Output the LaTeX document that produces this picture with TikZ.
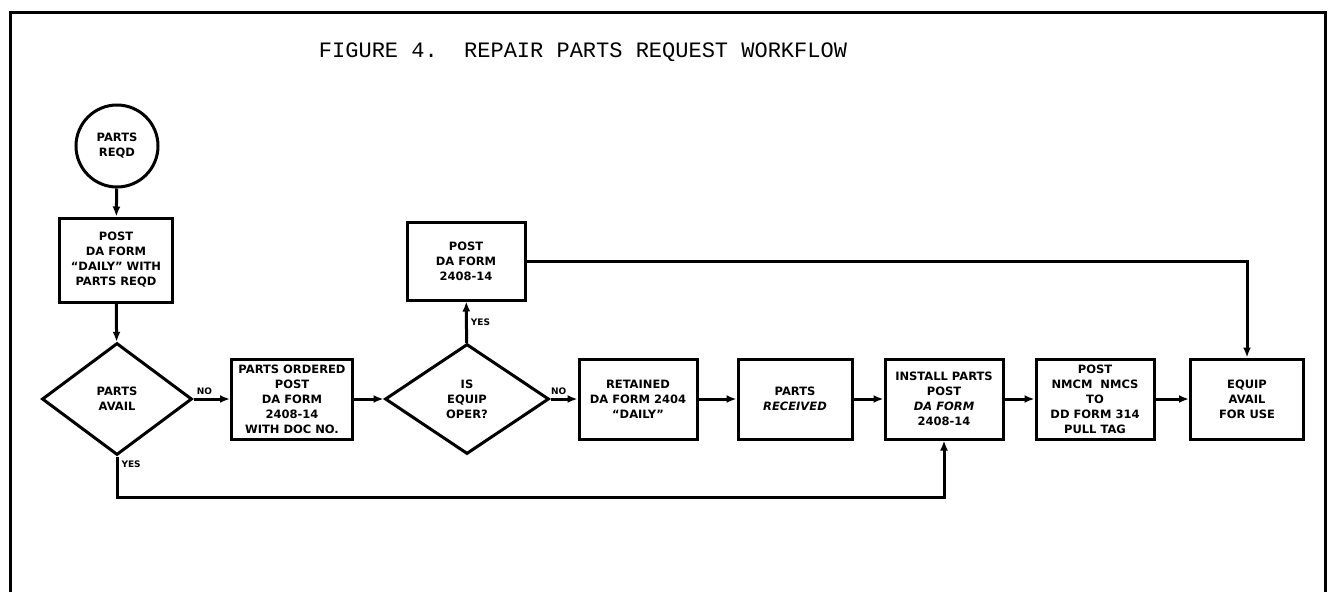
\documentclass[tikz,border=0pt]{standalone}
\usepackage{fontspec}
\usepackage{tikz}
\usetikzlibrary{shapes.geometric}
\usetikzlibrary{arrows.meta}
\newfontfamily\chartfont{DejaVu Sans}
\newfontfamily\titlefont{Liberation Mono}
\tikzset{
  % A step of the workflow
  stepbox/.style={
    draw=black, fill=white, rectangle, line width=3pt, align=center,
    font=\chartfont\bfseries\fontsize{11.5}{15}\selectfont,
    inner sep=0pt, minimum height=80pt, minimum width=#1},
  % A yes / no question
  ask/.style={
    draw=black, fill=white, diamond, line width=3pt, align=center,
    font=\chartfont\bfseries\fontsize{11.5}{15}\selectfont,
    inner sep=0pt, minimum width=#1, minimum height=112pt},
  % The start
  start/.style={
    draw=black, fill=white, circle, line width=3pt, align=center,
    font=\chartfont\bfseries\fontsize{11.5}{15}\selectfont,
    inner sep=0pt, minimum size=82pt},
  % Connectors
  flow/.style={-{Latex[length=10pt,width=8pt]}, draw=black, line width=3pt},
  lbl/.style={font=\chartfont\bfseries\fontsize{9}{10}\selectfont, inner sep=3pt},
}

\begin{document}
\begin{tikzpicture}[x=1pt, y=-1pt]

  \useasboundingbox (0,0) rectangle (1328,592);
  \draw[line width=3pt] (10,592) -- (10,12) -- (1325,12) -- (1325,592);

  \node[font=\titlefont\fontsize{22}{26}\selectfont] (title) at (583,52)
    {FIGURE 4.\ \ REPAIR PARTS REQUEST WORKFLOW};

  \node[start] (reqd) at (117,146) {PARTS\\REQD};
  \node[stepbox=113pt, minimum height=84pt] (daily) at (116,260)
    {POST\\DA FORM\\“DAILY” WITH\\PARTS REQD};
  \node[ask=150pt] (avail) at (117,399) {PARTS\\AVAIL};
  \node[stepbox=121pt] (ordered) at (292,399)
    {PARTS ORDERED\\POST\\DA FORM\\2408-14\\WITH DOC NO.};
  \node[ask=164pt, minimum height=110pt] (oper) at (467,399) {IS\\EQUIP\\OPER?};
  \node[stepbox=118pt, minimum height=78pt] (posted) at (466,261)
    {POST\\DA FORM\\2408-14};
  \node[stepbox=118pt] (retained) at (638,399)
    {RETAINED\\DA FORM 2404\\“DAILY”};
  \node[stepbox=114pt] (received) at (795,399) {PARTS\\\itshape RECEIVED};
  \node[stepbox=118pt] (install) at (944,399)
    {INSTALL PARTS\\POST\\\itshape DA FORM\\2408-14};
  \node[stepbox=118pt] (pulltag) at (1095,399)
    {POST\\NMCM\ \ NMCS\\TO\\DD FORM 314\\PULL TAG};
  \node[stepbox=113pt] (equip) at (1247,399) {EQUIP\\AVAIL\\FOR USE};

  \coordinate (loop) at (117,497);

  \draw[flow] (reqd) -- (daily);
  \draw[flow] (daily) -- (avail);
  \draw[flow] (avail) -- node[lbl, above, pos=0.3] {NO} (ordered);
  \draw[flow] (ordered) -- (oper);
  \draw[flow] (oper) -- node[lbl, right] {YES} (posted);
  \draw[flow] (oper) -- node[lbl, above, pos=0.3] {NO} (retained);
  \draw[flow] (retained) -- (received);
  \draw[flow] (received) -- (install);
  \draw[flow] (install) -- (pulltag);
  \draw[flow] (pulltag) -- (equip);
  \draw[flow] (posted.east) -| (equip.north);
  \draw[flow] (avail.south) -- node[lbl, right, pos=0.2] {YES} (loop) -| (install.south);

\end{tikzpicture}
\end{document}
